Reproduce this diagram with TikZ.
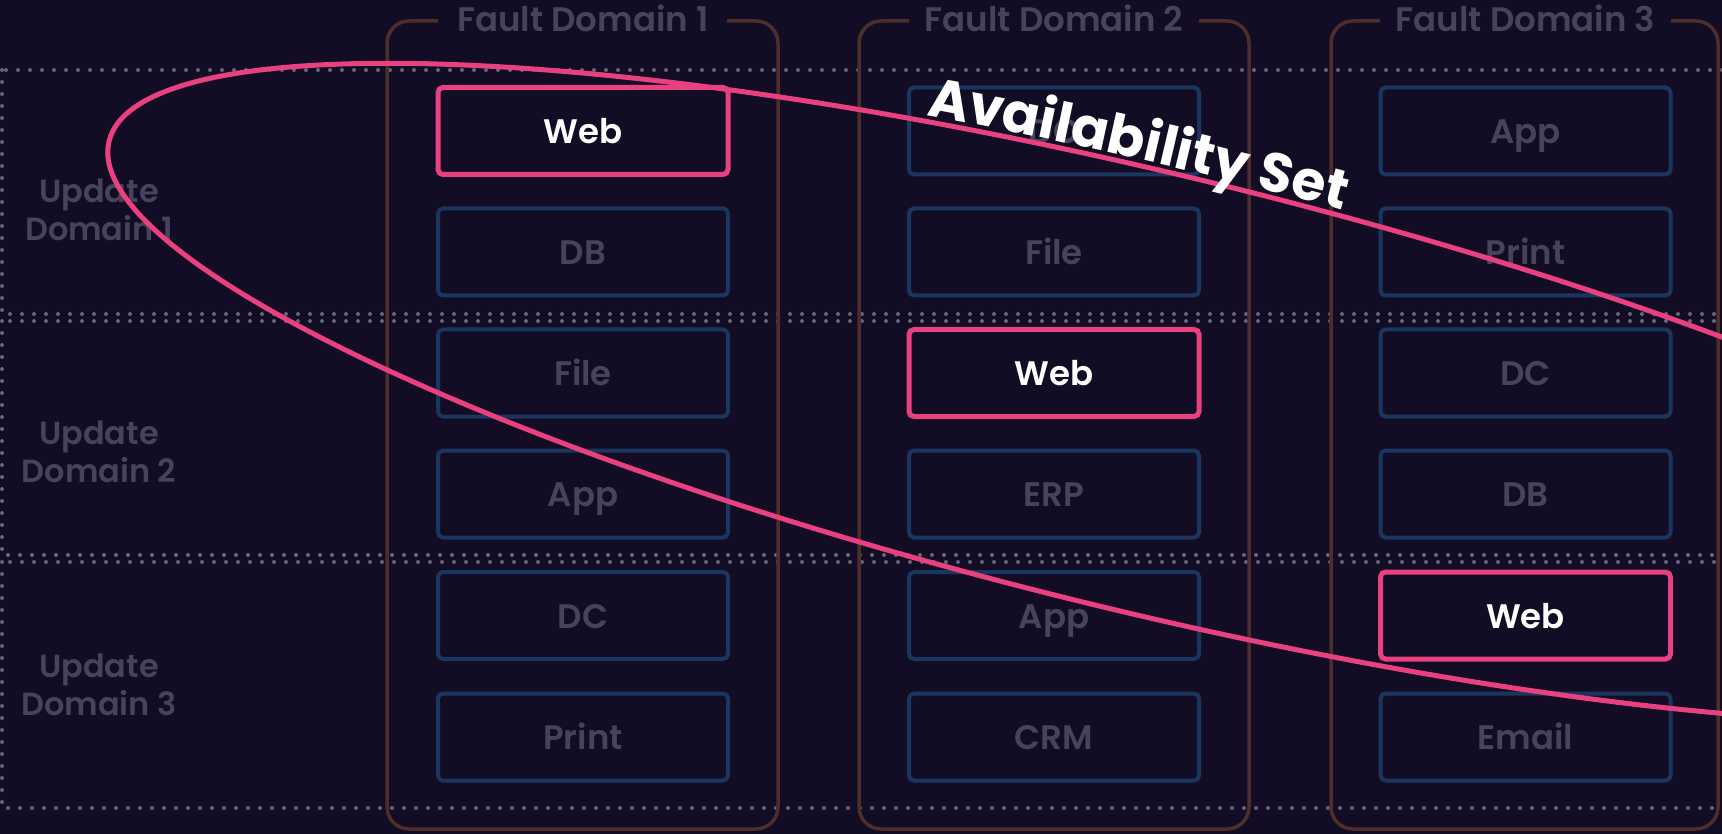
\documentclass[tikz,border=0pt]{standalone}
\usepackage{fontspec}
\newfontfamily\psb{Poppins SemiBold}
\newfontfamily\pbold{Poppins Bold}
\usetikzlibrary{decorations.text}
\definecolor{bgc}{HTML}{120C25}
\definecolor{greyc}{HTML}{47435A}
\definecolor{boxblue}{HTML}{1B365E}
\definecolor{brownc}{HTML}{4D2E2B}
\definecolor{pinkc}{HTML}{E9407F}
\definecolor{dotc}{HTML}{66667A}
\tikzset{
  udline/.style={draw=dotc, line width=4pt, line cap=round, dash pattern=on 0pt off 12pt},
  fdbracket/.style={draw=brownc, line width=3.5pt, rounded corners=22pt},
  fdtitle/.style={text=greyc, font=\psb\fontsize{34}{38}\selectfont, inner sep=0pt, text height=25pt, text depth=0pt},
  udlabel/.style={text=greyc, font=\psb\fontsize{32}{38}\selectfont, align=center, inner sep=0pt},
  vmbox/.style={draw=boxblue, line width=4pt, rounded corners=5pt, fill=bgc, minimum width=290pt, minimum height=87pt, inner sep=0pt, text height=25pt, text depth=0pt, text=greyc, font=\psb\fontsize{34}{38}\selectfont},
  webbox/.style={vmbox, draw=pinkc, line width=5pt, text=white},
  availset/.style={draw=pinkc, line width=5pt}
}
\begin{document}
\begin{tikzpicture}[x=1pt,y=-1pt]
\useasboundingbox (0,0) rectangle (1722,834);
\fill[bgc] (0,0) rectangle (1722,834);
\clip (0,0) rectangle (1722,834);

% update domain regions (dotted)
\draw[udline] (2,70) rectangle (1740,314);
\draw[udline] (2,321) rectangle (1740,555);
\draw[udline] (2,562) rectangle (1740,808);

% fault domain brackets
\draw[fdbracket] (438,21) -- (387,21) -- (387,829) -- (778,829) -- (778,21) -- (727,21);
\draw[fdbracket] (909,21) -- (859,21) -- (859,829) -- (1249,829) -- (1249,21) -- (1199,21);
\draw[fdbracket] (1380,21) -- (1331,21) -- (1331,829) -- (1718,829) -- (1718,21) -- (1671,21);

\node[fdtitle] (fd1) at (583,19.5) {Fault Domain 1};
\node[fdtitle] (fd2) at (1054,19.5) {Fault Domain 2};
\node[fdtitle] (fd3) at (1525.5,19.5) {Fault Domain 3};

\node[udlabel] (ud1) at (99,210) {Update\\Domain 1};
\node[udlabel] (ud2) at (99,452) {Update\\Domain 2};
\node[udlabel] (ud3) at (99,685) {Update\\Domain 3};

% fault domain 1
\node[webbox] (a1) at (583,131) {Web};
\node[vmbox] (a2) at (583,252) {DB};
\node[vmbox] (a3) at (583,373) {File};
\node[vmbox] (a4) at (583,494) {App};
\node[vmbox] (a5) at (583,615.5) {DC};
\node[vmbox] (a6) at (583,737) {Print};
% fault domain 2
\node[vmbox] (b1) at (1054,131) {DC};
\node[vmbox] (b2) at (1054,252) {File};
\node[webbox] (b3) at (1054,373) {Web};
\node[vmbox] (b4) at (1054,494) {ERP};
\node[vmbox] (b5) at (1054,615.5) {App};
\node[vmbox] (b6) at (1054,737) {CRM};
% fault domain 3
\node[vmbox] (c1) at (1525.5,131) {App};
\node[vmbox] (c2) at (1525.5,252) {Print};
\node[vmbox] (c3) at (1525.5,373) {DC};
\node[vmbox] (c4) at (1525.5,494) {DB};
\node[webbox] (c5) at (1525.5,615.5) {Web};
\node[vmbox] (c6) at (1525.5,737) {Email};

% availability set ellipse
\begin{scope}[shift={(1150,393)}, rotate=-13.6]
  \coordinate (asc) at (0,0);
  \draw[availset] (asc) ellipse [x radius=1071pt, y radius=219pt];
  \path[decorate, decoration={text along path, text align=left, raise=6pt,
        text={|\pbold\fontsize{55}{60}\selectfont\color{white}|Availability Set}}]
     (105.3:1071pt and 219pt) arc[start angle=105.3, end angle=76, x radius=1071pt, y radius=219pt];
\end{scope}
\end{tikzpicture}
\end{document}
